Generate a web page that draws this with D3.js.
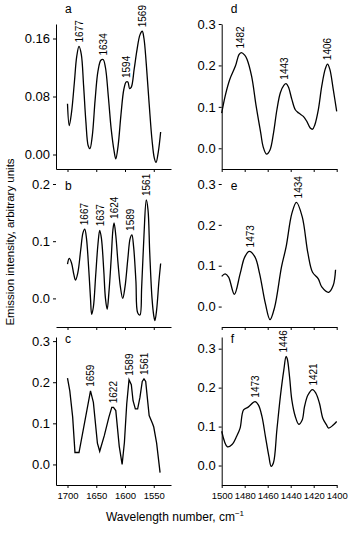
<!DOCTYPE html>
<html>
<head>
<meta charset="utf-8">
<script src="https://cdn.jsdelivr.net/npm/d3@7"></script>
<style>
  body { margin: 0; background: #fff; }
  svg { display: block; font-family: "Liberation Sans", Arial, sans-serif; }
</style>
</head>
<body>
<svg id="chart" width="353" height="538"></svg>
<script>

// X TICKS (wavelength number, cm-1)
const ticksLeft = [1700, 1650, 1600, 1550]
const ticksRight = [1500, 1480, 1460, 1440, 1420, 1400]

// Y TICKS
const yTicksA = [0, 0.08, 0.16]
const yTicksB = [0, 0.1, 0.2]
const yTicksC = [0, 0.1, 0.2, 0.3]
const yTicksDEF = [0, 0.1, 0.2, 0.3]

// SPECTRA [wavenumber, intensity]
const spectrumA = [[1700,0.070],[1697,0.040],[1693,0.058],[1688,0.100],[1684,0.135],[1680,0.149],[1676,0.138],[1672,0.095],[1668,0.045],[1664,0.012],[1661,0.008],[1657,0.025],[1652,0.075],[1647,0.115],[1642,0.130],[1638,0.131],[1634,0.120],[1629,0.080],[1624,0.035],[1619,0.005],[1616,-0.006],[1612,0.012],[1607,0.055],[1602,0.090],[1598,0.100],[1595,0.100],[1592,0.091],[1589,0.093],[1584,0.118],[1579,0.145],[1574,0.165],[1570,0.170],[1567,0.160],[1563,0.125],[1558,0.070],[1553,0.020],[1549,-0.005],[1546,-0.011],[1542,0.004],[1538,0.031]]

const spectrumB = [[1700,0.060],[1697,0.070],[1693,0.062],[1689,0.042],[1686,0.032],[1682,0.045],[1677,0.085],[1673,0.115],[1670,0.121],[1667,0.105],[1663,0.050],[1660,0.000],[1658,-0.028],[1655,-0.015],[1651,0.040],[1647,0.095],[1644,0.119],[1641,0.105],[1637,0.050],[1634,0.000],[1631,-0.019],[1628,0.010],[1624,0.070],[1621,0.120],[1619,0.132],[1616,0.110],[1612,0.060],[1608,0.020],[1604,0.000],[1600,0.020],[1595,0.070],[1591,0.105],[1588,0.111],[1585,0.090],[1581,0.030],[1578,-0.025],[1574,-0.029],[1571,0.020],[1567,0.110],[1563,0.172],[1560,0.155],[1557,0.080],[1553,0.000],[1550,-0.030],[1548,-0.039],[1545,-0.020],[1541,0.030],[1538,0.061]]

const spectrumC = [[1700,0.210],[1696,0.179],[1691,0.115],[1687,0.029],[1680,0.029],[1660,0.179],[1655,0.151],[1648,0.052],[1644,0.032],[1636,0.070],[1628,0.115],[1623,0.139],[1620,0.139],[1616,0.131],[1610,0.044],[1605,0.000],[1601,0.054],[1597,0.147],[1593,0.206],[1589,0.194],[1586,0.155],[1582,0.135],[1578,0.135],[1574,0.163],[1570,0.202],[1567,0.208],[1564,0.202],[1561,0.160],[1558,0.119],[1552,0.099],[1550,0.091],[1545,0.052],[1539,-0.020]]

const spectrumD = [[1500,0.085],[1497,0.126],[1493,0.166],[1488,0.199],[1485,0.226],[1483,0.231],[1480,0.225],[1478,0.215],[1474,0.174],[1470,0.101],[1466,0.036],[1464,0.004],[1461,-0.014],[1458,-0.004],[1455,0.036],[1452,0.093],[1449,0.134],[1446,0.152],[1444,0.156],[1442,0.148],[1439,0.118],[1436,0.093],[1433,0.085],[1429,0.077],[1426,0.065],[1423,0.049],[1421,0.046],[1419,0.057],[1416,0.093],[1413,0.150],[1410,0.191],[1408,0.203],[1406,0.191],[1403,0.142],[1400,0.089]]

const spectrumE = [[1500,0.074],[1497,0.080],[1494,0.072],[1489,0.030],[1484,0.080],[1480,0.121],[1476,0.135],[1471,0.121],[1467,0.080],[1462,0.007],[1458,-0.032],[1454,-0.002],[1448,0.097],[1444,0.146],[1439,0.228],[1435,0.255],[1430,0.220],[1425,0.130],[1421,0.084],[1416,0.068],[1413,0.048],[1407,0.035],[1403,0.052],[1401,0.090]]

const spectrumF = [[1500,0.088],[1495,0.048],[1491,0.054],[1487,0.075],[1484,0.096],[1481,0.143],[1477,0.150],[1471,0.164],[1468,0.155],[1465,0.126],[1462,0.075],[1459,0.024],[1457,-0.002],[1455,0.007],[1452,0.092],[1449,0.177],[1446,0.245],[1444,0.280],[1443,0.274],[1441,0.228],[1439,0.168],[1436,0.126],[1433,0.106],[1430,0.117],[1428,0.151],[1425,0.181],[1421,0.195],[1418,0.185],[1415,0.160],[1412,0.121],[1409,0.105],[1407,0.096],[1403,0.104],[1400,0.113]]

// PEAK LABELS [label, wavenumber, intensity]
const peaksA = [['1677',1680,0.149],['1634',1638,0.131],['1594',1597,0.100],['1569',1570,0.170]]
const peaksB = [['1667',1670,0.121],['1637',1642,0.119],['1624',1618,0.132],['1589',1590,0.111],['1561',1562,0.172]]
const peaksC = [['1659',1660,0.179],['1622',1620,0.139],['1589',1593,0.206],['1561',1566,0.208]]
const peaksD = [['1482',1484,0.231],['1443',1445,0.156],['1406',1408,0.203]]
const peaksE = [['1473',1475,0.135],['1434',1433,0.255]]
const peaksF = [['1473',1471,0.164],['1446',1446,0.280],['1421',1420,0.195]]

let svg = d3.select('#chart')

// PANEL LAYOUT
let left = {x0: 56, x1: 171, domain: [1720, 1520], ticks: ticksLeft}
let right = {x0: 221.7, x1: 336.7, domain: [1500, 1400], ticks: ticksRight}

let panels = [
    {name: 'a', col: left, top: 24, bottom: 169, yDomain: [-0.02, 0.18], yTicks: yTicksA, fmt: '.2f', data: spectrumA, peaks: peaksA, yLine: true, xLabels: false, curve: d3.curveCatmullRom},
    {name: 'b', col: left, top: 184, bottom: 327, yDomain: [-0.05, 0.2], yTicks: yTicksB, fmt: '.1f', data: spectrumB, peaks: peaksB, yLine: false, xLabels: false, curve: d3.curveCatmullRom},
    {name: 'c', col: left, top: 337, bottom: 485, yDomain: [-0.05, 0.31], yTicks: yTicksC, fmt: '.1f', data: spectrumC, peaks: peaksC, yLine: true, xLabels: true, curve: d3.curveLinear},
    {name: 'd', col: right, top: 24, bottom: 169, yDomain: [-0.05, 0.3], yTicks: yTicksDEF, fmt: '.1f', data: spectrumD, peaks: peaksD, yLine: true, xLabels: false, curve: d3.curveCatmullRom},
    {name: 'e', col: right, top: 184, bottom: 327, yDomain: [-0.05, 0.3], yTicks: yTicksDEF, fmt: '.1f', data: spectrumE, peaks: peaksE, yLine: false, xLabels: false, curve: d3.curveCatmullRom},
    {name: 'f', col: right, top: 337, bottom: 485, yDomain: [-0.05, 0.33], yTicks: yTicksDEF, fmt: '.1f', data: spectrumF, peaks: peaksF, yLine: true, xLabels: true, curve: d3.curveCatmullRom}
]

panels.forEach(p => {

    let x = d3.scaleLinear().domain(p.col.domain).range([p.col.x0, p.col.x1])
    let y = d3.scaleLinear().domain(p.yDomain).range([p.bottom, p.top])
    let g = svg.append('g')

    // X AXIS
    let xAxis = g.append('g')
        .attr('transform', `translate(0,${p.bottom})`)
        .call(d3.axisBottom(x).tickValues(p.col.ticks).tickSizeInner(3).tickSizeOuter(0).tickPadding(4)
            .tickFormat(p.xLabels ? d3.format('d') : ''))
    xAxis.attr('font-size', 9.5).attr('font-family', null)

    // Y AXIS
    let yAxis = g.append('g')
        .attr('transform', `translate(${p.col.x0},0)`)
        .call(d3.axisLeft(y).tickValues(p.yTicks).tickSizeInner(3).tickSizeOuter(0).tickPadding(3)
            .tickFormat(d3.format(p.fmt)))
    yAxis.attr('font-size', 13).attr('font-family', null)
    if (!p.yLine) yAxis.select('.domain').remove()

    g.selectAll('.domain, .tick line').attr('stroke', '#000')
    g.selectAll('.tick text').attr('fill', '#000')

    // SPECTRUM
    g.append('path')
        .datum(p.data)
        .attr('fill', 'none')
        .attr('stroke', '#000')
        .attr('stroke-width', 1.3)
        .attr('d', d3.line().x(d => x(d[0])).y(d => y(d[1])).curve(p.curve))

    // PEAK LABELS
    g.selectAll('.peak')
        .data(p.peaks)
        .join('text')
            .attr('transform', d => `translate(${x(d[1])},${y(d[2]) - 4}) rotate(-90)`)
            .attr('dy', '0.35em')
            .attr('font-size', 10)
            .text(d => d[0])

    // PANEL LETTER
    g.append('text')
        .attr('x', p.col.x0 + 9)
        .attr('y', p.top - 11 + (p.name === 'a' || p.name === 'd' ? 0 : 17))
        .attr('font-size', 12)
        .text(p.name)
})

// AXIS TITLES
svg.append('text')
    .attr('transform', 'translate(14,242) rotate(-90)')
    .attr('text-anchor', 'middle')
    .attr('font-size', 11.5)
    .text('Emission intensity, arbitrary units')

let xt = svg.append('text')
    .attr('x', 175)
    .attr('y', 521)
    .attr('text-anchor', 'middle')
    .attr('font-size', 12)
xt.append('tspan').text('Wavelength number, cm')
xt.append('tspan').attr('font-size', 8).attr('dy', -5).text('\u22121')

</script>
</body>
</html>
